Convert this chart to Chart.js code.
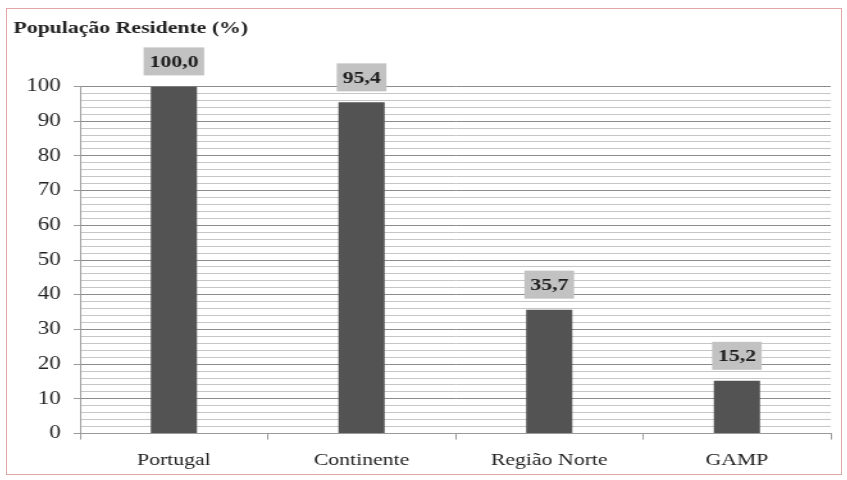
<!DOCTYPE html>
<html>
<head>
<meta charset="utf-8">
<script src="https://cdn.jsdelivr.net/npm/chart.js@4"></script>
<style>
  body { margin: 0; background: #fff; }
  #wrap {
    position: absolute; left: 6px; top: 8px; width: 836px; height: 467px;
    border: 1px solid #e2a6a6; box-sizing: border-box;
  }
  canvas { position: absolute; left: 0; top: 0; }
</style>
</head>
<body>
<div id="wrap">
  <!-- drawn narrow, shown wide: the source picture is stretched sideways -->
  <canvas id="pop" width="651" height="465" style="width:834px;height:465px"></canvas>
</div>
<script>
// data
const regions = ["Portugal", "Continente", "Região Norte", "GAMP"];
const residentPct = [100.0, 95.4, 35.7, 15.2];
const yTicks = [0, 10, 20, 30, 40, 50, 60, 70, 80, 90, 100];

const serif = "'Liberation Serif', 'Times New Roman', serif";

// gray box + bold value above each bar
const valueBoxes = {
  id: "valueBoxes",
  afterDatasetsDraw(chart) {
    const ctx = chart.ctx;
    const meta = chart.getDatasetMeta(0);
    ctx.save();
    ctx.font = "bold 17px " + serif;
    ctx.textAlign = "center";
    ctx.textBaseline = "middle";
    meta.data.forEach((bar, i) => {
      const txt = residentPct[i].toFixed(1).replace(".", ",");
      const w = ctx.measureText(txt).width + 9;
      const h = 28;
      const bottom = bar.y - 11;
      ctx.fillStyle = "#c2c2c2";
      ctx.fillRect(bar.x - w / 2, bottom - h, w, h);
      ctx.fillStyle = "#1e1e1e";
      ctx.fillText(txt, bar.x, bottom - h / 2 + 1);
    });
    ctx.restore();
  },
};

const popCtx = document.getElementById("pop").getContext("2d");
const popChart = new Chart(popCtx, {
  type: "bar",
  data: {
    labels: regions,
    datasets: [
      {
        data: residentPct,
        backgroundColor: "#535353",
        barPercentage: 0.246,
        categoryPercentage: 1,
      },
    ],
  },
  options: {
    responsive: false,
    animation: false,
    layout: { padding: { left: 5, right: 8, top: 0, bottom: -8 } },
    plugins: {
      legend: { display: false },
      tooltip: { enabled: false },
      title: {
        display: true,
        text: "População Residente (%)",
        align: "start",
        color: "#222",
        font: { family: serif, size: 17, weight: "bold" },
        padding: { top: 9, bottom: 48 },
      },
    },
    scales: {
      x: {
        offset: true,
        border: { color: "#9a9a9a" },
        grid: {
          offset: true,
          drawOnChartArea: false,
          tickLength: 6,
          color: "#9a9a9a",
        },
        ticks: {
          color: "#222",
          font: { family: serif, size: 17 },
          padding: 11,
        },
      },
      y: {
        min: 0,
        max: 100,
        border: { color: "#9a9a9a" },
        grid: {
          color: (c) => (c.tick.value % 10 === 0 ? "#8c8c8c" : "#c6c6c6"),
          tickColor: (c) => (c.tick.value % 10 === 0 ? "#9a9a9a" : "rgba(0,0,0,0)"),
          tickLength: 5,
        },
        ticks: {
          stepSize: 2,
          autoSkip: false,
          color: "#222",
          font: { family: serif, size: 18 },
          padding: 10,
          callback: (v) => (yTicks.includes(v) ? v : ""),
        },
      },
    },
  },
  plugins: [valueBoxes],
});
</script>
</body>
</html>
